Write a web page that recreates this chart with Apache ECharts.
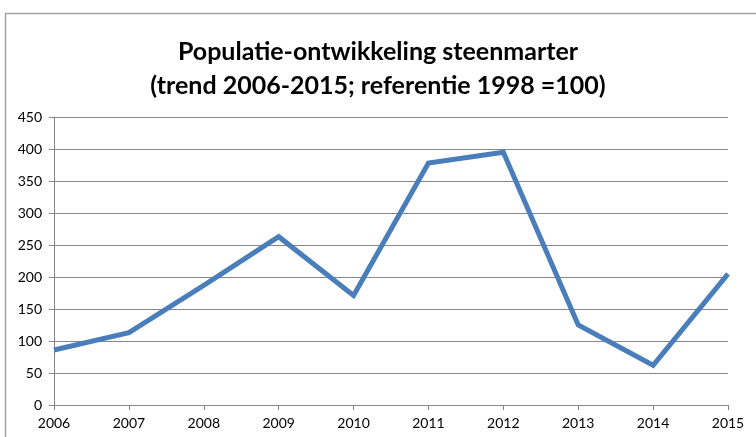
<!DOCTYPE html>
<html>
<head>
<meta charset="utf-8">
<script src="https://cdn.jsdelivr.net/npm/echarts@6/dist/echarts.min.js"></script>
<style>
  html, body { margin: 0; padding: 0; background: #fff; }
  #chart { width: 756px; height: 437px; }
</style>
</head>
<body>
<div id="chart"></div>
<script>
// Jaren en indexwaarden (1998 = 100)
const years = ['2006', '2007', '2008', '2009', '2010', '2011', '2012', '2013', '2014', '2015'];
const indexValues = [86, 113, 187, 263, 171, 378, 395, 125, 62, 205];
const yTicks = { min: 0, max: 450, interval: 50 };

const chart = echarts.init(document.getElementById('chart'));
const labelFont = { fontFamily: 'Lato, "Open Sans", sans-serif', fontSize: 14, color: '#000' };

chart.setOption({
  animation: false,
  backgroundColor: '#fff',
  title: {
    text: 'Populatie-ontwikkeling steenmarter\n(trend 2006-2015; referentie 1998 =100)',
    left: 'center',
    top: 30,
    textStyle: {
      fontFamily: 'Lato, "Open Sans", sans-serif',
      fontWeight: 'bold',
      fontSize: 25,
      lineHeight: 34,
      color: '#000'
    }
  },
  graphic: [{
    type: 'rect',
    shape: { x: 5.5, y: 13.5, width: 800, height: 500 },
    style: { fill: 'none', stroke: '#a0a0a0', lineWidth: 1.5 },
    silent: true
  }],
  grid: { left: 54, right: 28, top: 117, bottom: 32 },
  xAxis: {
    type: 'category',
    data: years,
    boundaryGap: false,
    axisLine: { lineStyle: { color: '#868686', width: 1 } },
    axisTick: { show: true, length: 5, alignWithLabel: true, lineStyle: { color: '#868686' } },
    axisLabel: Object.assign({ margin: 11 }, labelFont),
    splitLine: { show: false }
  },
  yAxis: {
    type: 'value',
    min: yTicks.min,
    max: yTicks.max,
    interval: yTicks.interval,
    axisLine: { show: true, lineStyle: { color: '#868686', width: 1 } },
    axisTick: { show: true, length: 5, lineStyle: { color: '#868686' } },
    axisLabel: Object.assign({ margin: 12 }, labelFont),
    splitLine: { lineStyle: { color: '#868686', width: 1 } }
  },
  series: [{
    type: 'line',
    data: indexValues,
    symbol: 'none',
    lineStyle: { color: '#4a7ebb', width: 5, join: 'miter' },
    itemStyle: { color: '#4a7ebb' }
  }]
});
</script>
</body>
</html>
